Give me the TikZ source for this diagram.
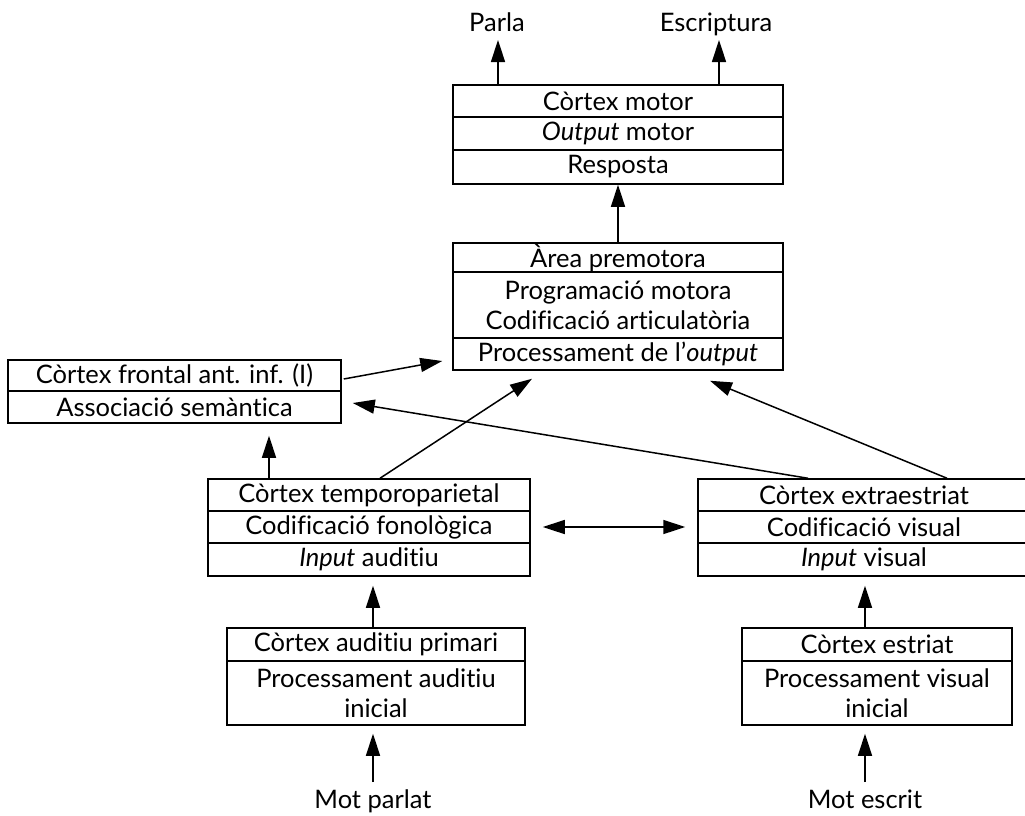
\documentclass[tikz,border=0pt]{standalone}
\usepackage{fontspec}
\setmainfont{Lato}[Ligatures=NoCommon]
\usetikzlibrary{arrows.meta,calc}
\begin{document}
\begin{tikzpicture}[x=1pt,y=-1pt,
 row/.style={draw, line width=1.5pt, inner sep=0pt, anchor=center, font=\fontsize{25.5}{30}\selectfont, align=center},
 lbl/.style={inner sep=0pt, anchor=base, font=\fontsize{25.5}{30}\selectfont},
 arr/.style={line width=1.5pt, -{Triangle[length=22pt,width=14pt]}},
 darr/.style={line width=1.5pt, {Triangle[length=22pt,width=14pt]}-{Triangle[length=22pt,width=14pt]}}]
\useasboundingbox (0,0) rectangle (1025,815);
% motor box
\node[row, minimum width=330, minimum height=32] (m1) at (618,101) {Còrtex motor};
\node[row, minimum width=330, minimum height=33] (m2) at (618,133.5) {\textit{Output} motor};
\node[row, minimum width=330, minimum height=34] (m3) at (618,167) {Resposta};
% premotor box
\node[row, minimum width=330, minimum height=29] (p1) at (618,257.5) {Àrea premotora};
\node[row, minimum width=330, minimum height=66] (p2) at (618,305) {Programació motora\\Codificació articulatòria};
\node[row, minimum width=330, minimum height=32] (p3) at (618,354) {Processament de l’\textit{output}};
% frontal box
\node[row, minimum width=333, minimum height=31] (f1) at (174.5,375.5) {Còrtex frontal ant. inf. (I)};
\node[row, minimum width=333, minimum height=32] (f2) at (174.5,407) {Associació semàntica};
% temporoparietal
\node[row, minimum width=322, minimum height=32] (t1) at (369,495) {Còrtex temporoparietal};
\node[row, minimum width=322, minimum height=32] (t2) at (369,527) {Codificació fonològica};
\node[row, minimum width=322, minimum height=33] (t3) at (369,559.5) {\textit{Input} auditiu};
% extraestriat
\node[row, minimum width=332, minimum height=32] (x1) at (864,495) {Còrtex extraestriat};
\node[row, minimum width=332, minimum height=32] (x2) at (864,527) {Codificació visual};
\node[row, minimum width=332, minimum height=33] (x3) at (864,559.5) {\textit{Input} visual};
% auditiu primari
\node[row, minimum width=298, minimum height=33] (a1) at (376,644.5) {Còrtex auditiu primari};
\node[row, minimum width=298, minimum height=64] (a2) at (376,693) {Processament auditiu\\inicial};
% estriat
\node[row, minimum width=270, minimum height=33] (e1) at (877,644.5) {Còrtex estriat};
\node[row, minimum width=270, minimum height=64] (e2) at (877,693) {Processament visual\\inicial};
% labels
\node[lbl] (parla) at (497,31) {Parla};
\node[lbl] (escr) at (716,31) {Escriptura};
\node[lbl] (mp) at (373,808) {Mot parlat};
\node[lbl] (me) at (865,808) {Mot escrit};
% arrows
\draw[arr] (m1.north -| parla.base) ++(1,0) -- ($(parla.base)+(1,9)$);
\draw[arr] (m1.north -| escr.base) ++(3,0) -- ($(escr.base)+(3,9)$);
\draw[arr] (p1.north) -- (m3.south);
\draw[arr] ($(f1.east)+(2,3.5)$) -- ($(p3.west)+(-10,7)$);
\draw[arr] ($(x1.north)+(-56,0)$) -- ($(f2.east)+(11,-4)$);
\draw[arr] ($(x1.north)+(83,0)$) -- ($(p3.south)+(92,10)$);
\draw[arr] ($(t1.north)+(11,0)$) -- ($(p3.south)+(-86,8)$);
\draw[arr] ($(t1.north)+(-100,0)$) -- ($(f2.south)+(94.5,12)$);
\draw[darr] ($(t2.east)+(12,0)$) -- ($(x2.west)+(-12,0)$);
\draw[arr] ($(a1.north)+(-3,0)$) -- ($(t3.south)+(4,9)$);
\draw[arr] ($(e1.north)+(-12,0)$) -- ($(x3.south)+(1,9)$);
\draw[arr] ($(mp.base)+(0,-26)$) -- ($(a2.south)+(-3,8)$);
\draw[arr] ($(me.base)+(0,-26)$) -- ($(e2.south)+(-12,8)$);
\end{tikzpicture}
\end{document}
